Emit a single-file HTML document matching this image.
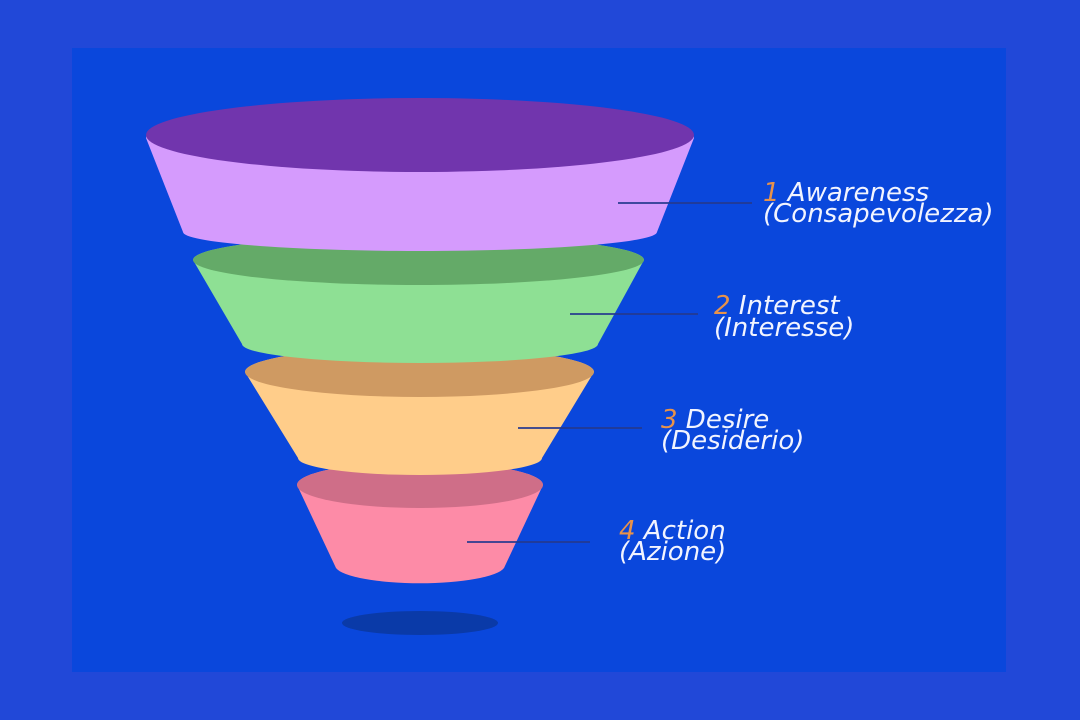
<!DOCTYPE html>
<html><head><meta charset="utf-8"><style>
html,body{margin:0;padding:0;background:#2148d8;}
svg{display:block}
text{font-family:"DejaVu Sans","Liberation Sans",sans-serif;font-style:italic;font-size:26px;fill:#f2f4ff}
.n{fill:#e8924a}
</style></head><body>
<svg width="1080" height="720" viewBox="0 0 1080 720" xmlns="http://www.w3.org/2000/svg">
<rect x="0" y="0" width="1080" height="720" fill="#2148d8"/>
<rect x="72" y="48" width="934" height="624" fill="#0a47dc"/>
<ellipse cx="420" cy="623" rx="78" ry="12" fill="#0a3aa8"/>
<path d="M297,485 L336,568 A85,18 0 0 0 504,568 L543,485 A123,23 0 0 0 297,485 Z" fill="#fd8ba7"/>
<ellipse cx="420" cy="485" rx="123" ry="23" fill="#cf6e88"/>
<path d="M245,372 L298,458 A122,17 0 0 0 542,458 L594,372 A174,25 0 0 0 245,372 Z" fill="#ffcd8a"/>
<ellipse cx="419.5" cy="372" rx="174.5" ry="25" fill="#cf9a62"/>
<path d="M193,260 L242,344 A178,19 0 0 0 598,344 L644,260 A225,25 0 0 0 193,260 Z" fill="#8ee094"/>
<ellipse cx="418.5" cy="260" rx="225.5" ry="25" fill="#64aa68"/>
<path d="M146,138 L183,232 A237,19 0 0 0 657,232 L694,138 A274,37 0 0 0 146,138 Z" fill="#d59bfd"/>
<ellipse cx="420" cy="135" rx="274" ry="37" fill="#7135ad"/>
<g stroke="#25398f" stroke-width="2" opacity="0.85">
<line x1="618" y1="203" x2="752" y2="203"/>
<line x1="570" y1="314" x2="698" y2="314"/>
<line x1="518" y1="428" x2="642" y2="428"/>
<line x1="467" y1="542" x2="590" y2="542"/>
</g>
<text x="763" y="201"><tspan class="n">1</tspan> Awareness</text>
<text x="763" y="222">(Consapevolezza)</text>
<text x="714" y="314"><tspan class="n">2</tspan> Interest</text>
<text x="714" y="336">(Interesse)</text>
<text x="661" y="428"><tspan class="n">3</tspan> Desire</text>
<text x="661" y="449">(Desiderio)</text>
<text x="619" y="539"><tspan class="n">4</tspan> Action</text>
<text x="619" y="560">(Azione)</text>
</svg>
</body></html>
